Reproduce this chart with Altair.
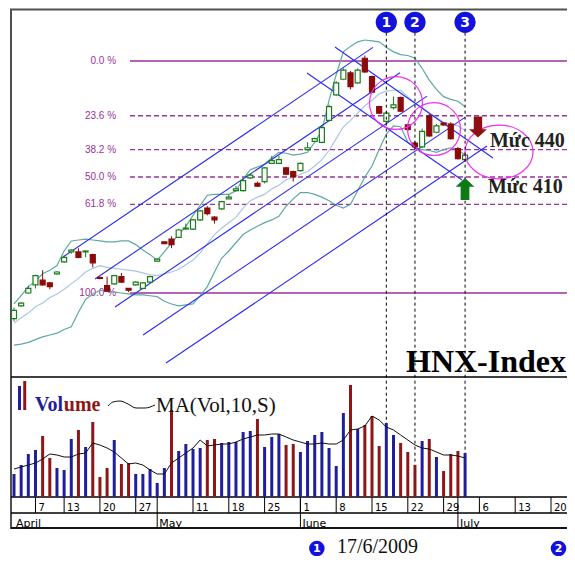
import altair as alt
import pandas as pd

# ------------------------------------------------------------------ data
days = list(range(64))  # trading days 2/4/2009 .. 2/7/2009

opens = [255, 269, 283, 292, 297, 294, 304, 317, 328, 328, 328, 325, 300, 291, 293, 301, 288, 292, 288, 295,
         318, 339, 342, 344, 353, 353, 363, 376, 366, 375, 386, 395, 395, 409, 403, 405, 425, 425, 420, 416,
         417, 440, 449, 448, 472, 500, 517, 524, 513, 540, 520, 487, 471, 486, 497, 467, 447, 443, 477, 459,
         469, 468, 441, 429]
highs = [267, 273, 291, 303, 308, 295, 307, 324, 331, 332, 329, 326, 301, 301, 303, 305, 288, 296, 295, 302,
         321, 339, 345, 353, 359, 364, 374, 378, 367, 384, 391, 400, 408, 414, 405, 421, 433, 433, 421, 417,
         426, 448, 453, 466, 489, 515, 529, 526, 529, 543, 521, 488, 482, 498, 498, 468, 449, 463, 479, 468,
         470, 470, 443, 437]
lows = [252, 268, 282, 288, 291, 287, 303, 316, 326, 321, 322, 311, 298, 285, 292, 294, 284, 291, 287, 294,
        317, 337, 332, 343, 353, 352, 362, 368, 359, 374, 386, 394, 394, 408, 399, 403, 425, 424, 412, 405,
        416, 439, 448, 447, 471, 499, 516, 506, 512, 524, 502, 479, 469, 484, 481, 460, 441, 442, 454, 458,
        466, 451, 429, 427]
closes = [264, 272, 288, 302, 292, 290, 306, 322, 330, 322, 329, 316, 299, 285, 302, 295, 286, 295, 294, 301,
          320, 337, 336, 352, 354, 363, 373, 370, 363, 383, 388, 397, 406, 412, 400, 420, 428, 429, 413, 410,
          425, 442, 452, 464, 487, 513, 527, 509, 527, 525, 503, 480, 480, 489, 482, 462, 443, 460, 455, 466,
          467, 452, 430, 434]

bb_upper = [271, 280, 290, 296, 304, 308, 313, 329, 340, 341, 342, 341, 340, 339, 339, 340, 340, 336, 330, 325,
            319, 328, 338, 347, 356, 368, 379, 390, 391, 391, 391, 395, 408, 418, 421, 424, 431, 437, 436, 434,
            435, 437, 448, 461, 494, 522, 547, 553, 558, 560, 559, 558, 552, 547, 544, 543, 540, 529, 516, 506,
            498, 495, 493, 487]
bb_mid = [250, 256, 261, 268, 272, 278, 282, 287, 293, 299, 306, 310, 313, 311, 310, 309, 308, 307, 305, 303,
          302, 304, 306, 309, 314, 319, 327, 337, 347, 354, 360, 366, 376, 384, 388, 391, 397, 401, 407, 410,
          413, 416, 422, 429, 439, 452, 465, 472, 480, 488, 494, 501, 504, 505, 505, 498, 491, 486, 480, 475,
          470, 468, 466, 461]
bb_lower = [226, 227, 229, 232, 235, 237, 239, 243, 246, 262, 276, 282, 286, 285, 284, 283, 282, 281, 281, 280,
            279, 274, 271, 269, 270, 271, 280, 290, 306, 321, 329, 338, 347, 352, 356, 360, 363, 367, 378, 386,
            393, 393, 391, 388, 384, 379, 376, 380, 395, 410, 422, 440, 457, 466, 465, 448, 442, 440, 439, 437,
            440, 442, 440, 434]

volume = [23, 32, 43, 47, 61, 39, 29, 27, 58, 67, 50, 75, 20, 29, 57, 33, 34, 23, 23, 28,
          14, 29, 87, 46, 53, 48, 49, 57, 58, 54, 55, 55, 65, 66, 78, 50, 60, 63, 52, 53,
          45, 56, 62, 65, 49, 31, 84, 112, 68, 72, 81, 51, 74, 62, 54, 45, 32, 56, 58, 40,
          26, 43, 46, 44]
vol_dir = ["b", "b", "b", "b", "r", "r", "b", "b", "b", "r", "b", "r", "r", "r", "b", "r", "r", "b", "b", "b",
           "b", "b", "r", "b", "b", "b", "b", "r", "r", "b", "b", "b", "b", "b", "r", "b", "b", "b", "r", "r",
           "b", "b", "b", "b", "b", "b", "b", "r", "b", "r", "r", "r", "b", "b", "r", "r", "r", "b", "r", "b",
           "r", "r", "r", "b"]
vol_ma = [28, 30, 32, 34, 38, 43, 42, 40, 40, 43, 44, 54, 52, 49, 45, 39, 33, 34, 32, 27,
          23, 23, 34, 39, 44, 49, 57, 51, 52, 53, 53, 55, 58, 60, 62, 62, 63, 63, 60, 57,
          55, 53, 53, 54, 53, 53, 57, 67, 68, 71, 81, 77, 70, 67, 62, 57, 52, 49, 48, 45,
          42, 42, 41, 39]

fib_high = 537
fib_low = 283
fib_pcts = [0.0, 23.6, 38.2, 50.0, 61.8, 100.0]
fib_labels = ["0.0 %", "23.6 %", "38.2 %", "50.0 %", "61.8 %", "100.0 %"]

# trend channel lines (day, price) -> (day, price)
trend_d1 = [6.84, 11.31, 14.11, 18.02, 21.23, 44.83, 40.92]
trend_p1 = [322.4, 298.3, 267.6, 237.0, 206.3, 552.3, 523.9]
trend_d2 = [50.14, 53.91, 57.68, 62.99, 66.06, 66.9, 62.57]
trend_p2 = [551.9, 524.1, 498.5, 475.3, 443.9, 430.8, 406.7]

marker_days = [52, 56, 63]
marker_labels = ["1", "2", "3"]

tick_days = [3, 7, 12, 17, 25, 30, 35, 40, 45, 50, 55, 60, 65, 70, 75]
tick_labels = ["7", "13", "20", "27", "11", "18", "25", "1", "8", "15", "22", "29", "6", "13", "20"]
month_days = [0, 20, 40, 62]
month_labels = ["April", "May", "June", "July"]

# ------------------------------------------------------------------ layout / scales
W, H = 559, 548
PX_PER_DAY = 7.16
X0 = 6.0                      # plot x of day 0
PX_PER_PT = 232 / (fib_high - fib_low)
TOP_HIGH = 53                 # plot y of fib_high
VOL_BASE = 489                # plot y of zero volume

xmin = -X0 / PX_PER_DAY
xmax = xmin + W / PX_PER_DAY
pmax = fib_high + TOP_HIGH / PX_PER_PT
pmin = pmax - H / PX_PER_PT
vmax = VOL_BASE
vmin = VOL_BASE - H

XS = alt.Scale(domain=[xmin, xmax], nice=False, zero=False, padding=0)
PS = alt.Scale(domain=[pmin, pmax], nice=False, zero=False, padding=0)
VS = alt.Scale(domain=[vmin, vmax], nice=False, zero=False, padding=0)


def X(f):
    return alt.X(f, type="quantitative", scale=XS, axis=None)


def YP(f):
    return alt.Y(f, type="quantitative", scale=PS, axis=None)


def YV(f):
    return alt.Y(f, type="quantitative", scale=VS, axis=None)


def XD(v):
    return alt.XDatum(v, type="quantitative", scale=XS, axis=None)


def YPD(v):
    return alt.YDatum(v, type="quantitative", scale=PS, axis=None)


def YVD(v):
    return alt.YDatum(v, type="quantitative", scale=VS, axis=None)


GREEN = "#1b7d1b"
RED = "#8b0a0a"
VBLUE = "#1f1f9c"
VRED = "#8e1616"
PURPLE = "#993399"
TEAL = "#5ea8a2"
LBLUE = "#a9c6e4"
TBLUE = "#2b2bf2"
MAGENTA = "#f030f0"
MBLUE = "#1212dc"
SERIF = "Liberation Serif"

layers = []

# frame
layers.append(alt.Chart(pd.DataFrame({"a": [0]})).mark_rect(
    fill="white", stroke="#505050", strokeWidth=2).encode(
    x=XD(-0.42), x2=alt.X2Datum(xmax + 3), y=YPD(593.4), y2=alt.Y2Datum(25.7)))

# fibonacci levels
fdf = pd.DataFrame({"pct": fib_pcts, "label": fib_labels})
fdf["price"] = fib_high - fdf["pct"] / 100 * (fib_high - fib_low)
solid = fdf[fdf["pct"].isin([0.0, 100.0])]
dashed = fdf[~fdf["pct"].isin([0.0, 100.0])]
layers.append(alt.Chart(solid).mark_rule(color=PURPLE, strokeWidth=1.6).encode(
    x=XD(16.2), x2=alt.X2Datum(xmax + 2), y=YP("price")))
layers.append(alt.Chart(dashed).mark_rule(color=PURPLE, strokeWidth=1.3, strokeDash=[5, 3]).encode(
    x=XD(16.2), x2=alt.X2Datum(xmax + 2), y=YP("price")))
layers.append(alt.Chart(fdf).mark_text(align="right", baseline="middle", fontSize=10,
                                       font="Liberation Sans", color=PURPLE).encode(
    x=XD(14.25), y=YP("price"), text="label:N"))

# bollinger bands
bdf = pd.DataFrame({"d": days, "up": bb_upper, "mid": bb_mid, "lo": bb_lower})
layers.append(alt.Chart(bdf).mark_line(color=LBLUE, strokeWidth=1.2).encode(x=X("d"), y=YP("mid")))
layers.append(alt.Chart(bdf).mark_line(color=TEAL, strokeWidth=1.2).encode(x=X("d"), y=YP("up")))
layers.append(alt.Chart(bdf).mark_line(color=TEAL, strokeWidth=1.2).encode(x=X("d"), y=YP("lo")))

# trend channel
tdf = pd.DataFrame({"d1": trend_d1, "p1": trend_p1, "d2": trend_d2, "p2": trend_p2})
layers.append(alt.Chart(tdf).mark_rule(color=TBLUE, strokeWidth=1.1).encode(
    x=X("d1"), x2=alt.X2("d2"), y=YP("p1"), y2=alt.Y2("p2")))

# candles
cdf = pd.DataFrame({"d": days, "o": opens, "h": highs, "l": lows, "c": closes})
cdf["cdir"] = ["up" if c >= o else "down" for o, c in zip(opens, closes)]
dir_stroke = alt.Scale(domain=["up", "down"], range=[GREEN, RED])
dir_fill = alt.Scale(domain=["up", "down"], range=["#ffffff", RED])
layers.append(alt.Chart(cdf).mark_rule(strokeWidth=1).encode(
    x=X("d"), y=YP("l"), y2=alt.Y2("h"),
    color=alt.Color("cdir:N", scale=dir_stroke, legend=None)))
layers.append(alt.Chart(cdf).mark_bar(size=5, strokeWidth=1.2).encode(
    x=X("d"), y=YP("o"), y2=alt.Y2("c"),
    fill=alt.Fill("cdir:N", scale=dir_fill, legend=None),
    stroke=alt.Stroke("cdir:N", scale=dir_stroke, legend=None)))

# magenta circles
circ_d = [53.35, 58.66]
circ_p = [491.0, 462.5]
layers.append(alt.Chart(pd.DataFrame({"d": circ_d, "p": circ_p})).mark_point(
    shape="circle", size=2800, filled=False, color=MAGENTA, strokeWidth=1.2, opacity=1).encode(
    x=X("d"), y=YP("p")))
ellipse = "M -1,0 A 1,0.79 0 1,0 1,0 A 1,0.79 0 1,0 -1,0 Z"
layers.append(alt.Chart(pd.DataFrame({"d": [67.74], "p": [437.4]})).mark_point(
    shape=ellipse, size=4624, filled=False, color=MAGENTA, strokeWidth=1.2, opacity=1).encode(
    x=X("d"), y=YP("p")))

# dashed markers
mdf = pd.DataFrame({"d": marker_days, "t": marker_labels})
layers.append(alt.Chart(mdf).mark_rule(color="black", strokeWidth=1, strokeDash=[3, 3]).encode(
    x=X("d"), y=YPD(568), y2=alt.Y2Datum(60)))
layers.append(alt.Chart(mdf).mark_point(shape="circle", size=450, filled=True, color=MBLUE, opacity=1).encode(
    x=X("d"), y=YPD(579.4)))
layers.append(alt.Chart(mdf).mark_text(color="white", fontWeight="bold", fontSize=14, font="DejaVu Sans",
                                       baseline="middle").encode(x=X("d"), y=YPD(579.0), text="t:N"))

# arrows
down_arrow = "M -0.4,-1 L 0.4,-1 L 0.4,0.2 L 0.85,0.2 L 0,1 L -0.85,0.2 L -0.4,0.2 Z"
up_arrow = "M -0.4,1 L 0.4,1 L 0.4,-0.2 L 0.85,-0.2 L 0,-1 L -0.85,-0.2 L -0.4,-0.2 Z"
layers.append(alt.Chart(pd.DataFrame({"d": [64.8], "p": [464.7]})).mark_point(
    shape=down_arrow, size=440, filled=True, color="#8e1010", opacity=1).encode(x=X("d"), y=YP("p")))
layers.append(alt.Chart(pd.DataFrame({"d": [62.99], "p": [396.8]})).mark_point(
    shape=up_arrow, size=480, filled=True, color="#0e7a16", opacity=1).encode(x=X("d"), y=YP("p")))


def ptext(d, p, t, **kw):
    return alt.Chart(pd.DataFrame({"d": [d], "p": [p], "t": [t]})).mark_text(**kw).encode(
        x=X("d"), y=YP("p"), text="t:N")


def vtext(d, v, t, **kw):
    return alt.Chart(pd.DataFrame({"d": [d], "v": [v], "t": [t]})).mark_text(**kw).encode(
        x=X("d"), y=YV("v"), text="t:N")


layers.append(ptext(66.48, 442.8, "Mức 440", align="left", baseline="alphabetic", font=SERIF,
                    fontSize=20, fontWeight="bold", color="#222222"))
layers.append(ptext(66.2, 392.5, "Mức 410", align="left", baseline="alphabetic", font=SERIF,
                    fontSize=20, fontWeight="bold", color="#222222"))
layers.append(ptext(54.75, 196.5, "HNX-Index", align="left", baseline="alphabetic", font=SERIF,
                    fontSize=32, fontWeight="bold", color="black"))

# ------------------------------------------------------------------ volume panel
hdf = pd.DataFrame({"v": [120, 0, -16, -31]})
layers.append(alt.Chart(hdf).mark_rule(color="black", strokeWidth=1.5).encode(
    x=XD(-0.42), x2=alt.X2Datum(xmax + 2), y=YV("v")))

vdf = pd.DataFrame({"d": days, "vol": volume, "vdir": vol_dir, "ma": vol_ma})
vcol = alt.Scale(domain=["b", "r"], range=[VBLUE, VRED])
layers.append(alt.Chart(vdf).mark_bar(size=3).encode(
    x=X("d"), y=YV("vol"), y2=alt.Y2Datum(0),
    color=alt.Color("vdir:N", scale=vcol, legend=None)))
layers.append(alt.Chart(vdf).mark_line(color="#111111", strokeWidth=1).encode(x=X("d"), y=YV("ma")))

# volume legend
leg = pd.DataFrame({"d": [0.77, 1.5], "v1": [87, 87], "v2": [111, 116], "vdir": ["b", "r"]})
layers.append(alt.Chart(leg).mark_rule(strokeWidth=3).encode(
    x=X("d"), y=YV("v1"), y2=alt.Y2("v2"),
    color=alt.Color("vdir:N", scale=vcol, legend=None)))
layers.append(vtext(2.93, 86, "Vol", align="left", baseline="alphabetic", font=SERIF, fontSize=20,
                    fontWeight="bold", color=VBLUE))
layers.append(vtext(6.95, 86, "ume", align="left", baseline="alphabetic", font=SERIF, fontSize=20,
                    fontWeight="bold", color=VRED))
wave_d = [13.13, 13.83, 14.8, 15.92, 17.04, 18.3, 19.69]
wave_v = [91, 95, 96, 93, 89, 89, 92]
layers.append(alt.Chart(pd.DataFrame({"d": wave_d, "v": wave_v})).mark_line(
    color="#111111", strokeWidth=1, interpolate="monotone").encode(x=X("d"), y=YV("v")))
layers.append(vtext(19.83, 85, "MA(Vol,10,S)", align="left", baseline="alphabetic", font=SERIF,
                    fontSize=21, color="#111111"))

# date axis rows
tk = pd.DataFrame({"d": tick_days, "t": tick_labels})
layers.append(alt.Chart(tk).mark_rule(color="black", strokeWidth=1).encode(
    x=X("d"), y=YVD(0), y2=alt.Y2Datum(-16)))
layers.append(alt.Chart(tk).mark_text(align="left", dx=3, baseline="alphabetic", font="DejaVu Sans",
                                      fontSize=10, color="black").encode(x=X("d"), y=YVD(-14), text="t:N"))
mk = pd.DataFrame({"d": month_days, "t": month_labels})
layers.append(alt.Chart(mk[mk["d"] > 0]).mark_rule(color="black", strokeWidth=1).encode(
    x=X("d"), y=YVD(0), y2=alt.Y2Datum(-31)))
layers.append(alt.Chart(mk).mark_text(align="left", dx=2, baseline="alphabetic", font="DejaVu Sans",
                                      fontSize=11, color="black").encode(x=X("d"), y=YVD(-30), text="t:N"))

# footnote
fn = pd.DataFrame({"d": [42.3, 76.05], "t": ["1", "2"]})
layers.append(alt.Chart(fn).mark_point(shape="circle", size=240, filled=True, color=MBLUE, opacity=1).encode(
    x=X("d"), y=YVD(-51.5)))
layers.append(alt.Chart(fn).mark_text(color="white", fontWeight="bold", fontSize=11, font="DejaVu Sans",
                                      baseline="middle").encode(x=X("d"), y=YVD(-51.5), text="t:N"))
layers.append(vtext(45.1, -56, "17/6/2009", align="left", baseline="alphabetic", font=SERIF,
                    fontSize=20, color="#111111"))

chart = alt.layer(*layers).resolve_scale(
    y="independent", color="independent", fill="independent", stroke="independent").properties(
    width=W, height=H, padding=0, autosize=alt.AutoSizeParams(type="none"),
    background="white").configure_view(strokeWidth=0)

chart.save("out.html", embed_options={"renderer": "svg", "actions": False})
